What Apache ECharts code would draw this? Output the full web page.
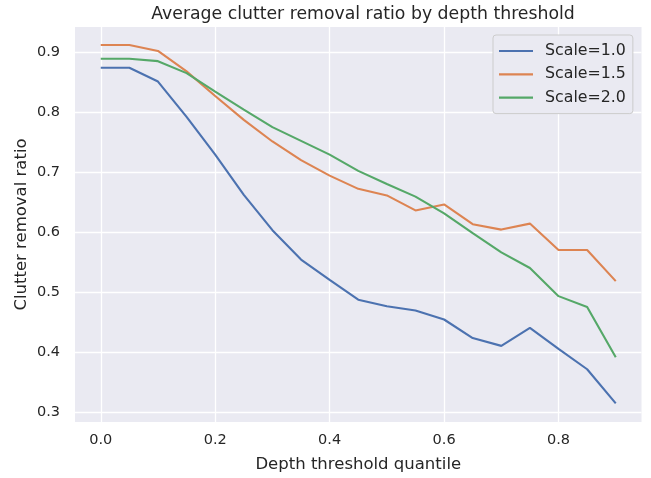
<!DOCTYPE html>
<html><head><meta charset="utf-8">
<script src="https://cdn.jsdelivr.net/npm/echarts@6/dist/echarts.min.js"></script>
<style>html,body{margin:0;padding:0;background:#fff}#c{width:651px;height:478px}</style>
</head><body><div id="c"></div>
<script>
const quantiles = [0, 0.05, 0.1, 0.15, 0.2, 0.25, 0.3, 0.35, 0.4, 0.45, 0.5, 0.55, 0.6, 0.65, 0.7, 0.75, 0.8, 0.85, 0.9];
const scale10 = [0.874, 0.874, 0.851, 0.792, 0.729, 0.662, 0.603, 0.554, 0.520, 0.487, 0.476, 0.469, 0.454, 0.423, 0.410, 0.440, 0.405, 0.371, 0.314];
const scale15 = [0.912, 0.912, 0.902, 0.868, 0.827, 0.787, 0.751, 0.720, 0.694, 0.672, 0.661, 0.636, 0.646, 0.613, 0.604, 0.614, 0.570, 0.570, 0.518];
const scale20 = [0.889, 0.889, 0.885, 0.865, 0.834, 0.804, 0.775, 0.752, 0.729, 0.702, 0.680, 0.659, 0.631, 0.598, 0.566, 0.540, 0.493, 0.475, 0.391];
const seriesNames = ['Scale=1.0', 'Scale=1.5', 'Scale=2.0'];
const xTicks = [0, 0.2, 0.4, 0.6, 0.8];
const yTicks = [0.3, 0.4, 0.5, 0.6, 0.7, 0.8, 0.9];
const colors = ['#4C72B0', '#DD8452', '#55A868'];
const FONT = 'DejaVu Sans';
const pair = arr => quantiles.map((q, i) => [q, arr[i]]);
const chart = echarts.init(document.getElementById('c'), null, {renderer: 'canvas'});
chart.setOption({
  animation: false,
  color: colors,
  title: {text: 'Average clutter removal ratio by depth threshold', left: 358, textAlign: 'center', top: 1,
    textStyle: {fontFamily: FONT, fontSize: 17.3, fontWeight: 'normal', color: '#262626'}},
  grid: {left: 75, right: 9.5, top: 27, bottom: 56, show: true, backgroundColor: '#EAEAF2', borderWidth: 0,
    containLabel: false, outerBoundsMode: 'none'},
  legend: {orient: 'vertical', left: 493, top: 35, padding: [7, 7, 7, 6], itemGap: 5.3,
    backgroundColor: '#EAEAF2', borderColor: '#CCCCCC', borderWidth: 1, borderRadius: 3,
    icon: 'rect', itemWidth: 34, itemHeight: 2.2,
    textStyle: {fontFamily: FONT, fontSize: 15.8, color: '#262626', lineHeight: 18, padding: [0, 0, 0, 7]},
    data: seriesNames},
  xAxis: {type: 'value', min: -0.045, max: 0.945,
    name: 'Depth threshold quantile', nameLocation: 'middle', nameGap: 34,
    nameTextStyle: {fontFamily: FONT, fontSize: 16.5, color: '#262626'},
    axisLine: {show: false}, axisTick: {show: false, customValues: xTicks},
    axisLabel: {customValues: xTicks, formatter: v => v.toFixed(1), fontFamily: FONT, fontSize: 14.5, color: '#262626', margin: 11},
    splitLine: {show: true, lineStyle: {color: '#FFFFFF', width: 1.3}}},
  yAxis: {type: 'value', min: 0.283, max: 0.942,
    name: 'Clutter removal ratio', nameLocation: 'middle', nameGap: 45, nameMoveOverlap: false,
    nameTextStyle: {fontFamily: FONT, fontSize: 16.5, color: '#262626'},
    axisLine: {show: false}, axisTick: {show: false, customValues: yTicks},
    axisLabel: {customValues: yTicks, formatter: v => v.toFixed(1), fontFamily: FONT, fontSize: 14.5, color: '#262626', margin: 15},
    splitLine: {show: true, lineStyle: {color: '#FFFFFF', width: 1.3}}},
  series: [scale10, scale15, scale20].map((d, i) => ({
    name: seriesNames[i], type: 'line', data: pair(d), showSymbol: false, symbol: 'none',
    lineStyle: {width: 2.1, color: colors[i]}, itemStyle: {color: colors[i]}, z: 2 + i
  }))
});
</script></body></html>
